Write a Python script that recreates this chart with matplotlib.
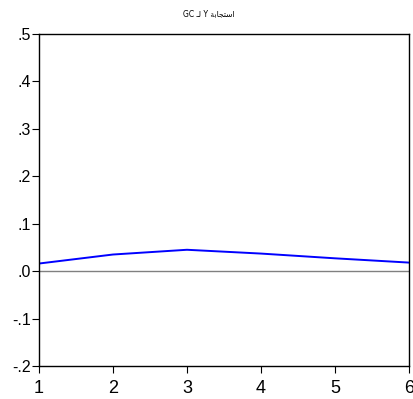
import matplotlib
matplotlib.use("Agg")
import matplotlib.pyplot as plt
from matplotlib.ticker import FuncFormatter

# response of Y to GC over 6 periods
periods = [1, 2, 3, 4, 5, 6]
response = [0.016, 0.035, 0.045, 0.037, 0.027, 0.018]

# title in visual order with presentation forms (matplotlib does no Arabic shaping)
title = "GC \u0640\uFEDF Y \uFE94\uFE91\uFE8E\uFEA0\uFE98\uFEB3\uFE8D"

plt.rcParams['font.family'] = ['Liberation Sans', 'DejaVu Sans']

fig = plt.figure(figsize=(4.13, 3.99), dpi=100)
ax = fig.add_axes([0.0944, 0.0827, 0.8956, 0.8323])

ax.axhline(0, color='#808080', lw=1.0, zorder=1)
ax.plot(periods, response, color='#0000ff', lw=1.4, zorder=2)

ax.set_xlim(1, 6)
ax.set_ylim(-0.2, 0.5)
ax.set_xticks(periods)
ax.set_yticks([-0.2, -0.1, 0.0, 0.1, 0.2, 0.3, 0.4, 0.5])


def fmt(v, pos):
    s = "%.1f" % v
    return s.replace("0.", ".")


ax.yaxis.set_major_formatter(FuncFormatter(fmt))
ax.tick_params(direction='out', length=5, width=0.8, top=False, right=False)
ax.tick_params(axis='y', labelsize=11.5, pad=1)
ax.tick_params(axis='x', labelsize=13, pad=5)
for sp in ax.spines.values():
    sp.set_linewidth(1.0)

fig.text(0.505, 0.965, title, ha='center', va='center', fontsize=5.5,
         family=['DejaVu Sans'])

fig.savefig("out.png", dpi=100)
